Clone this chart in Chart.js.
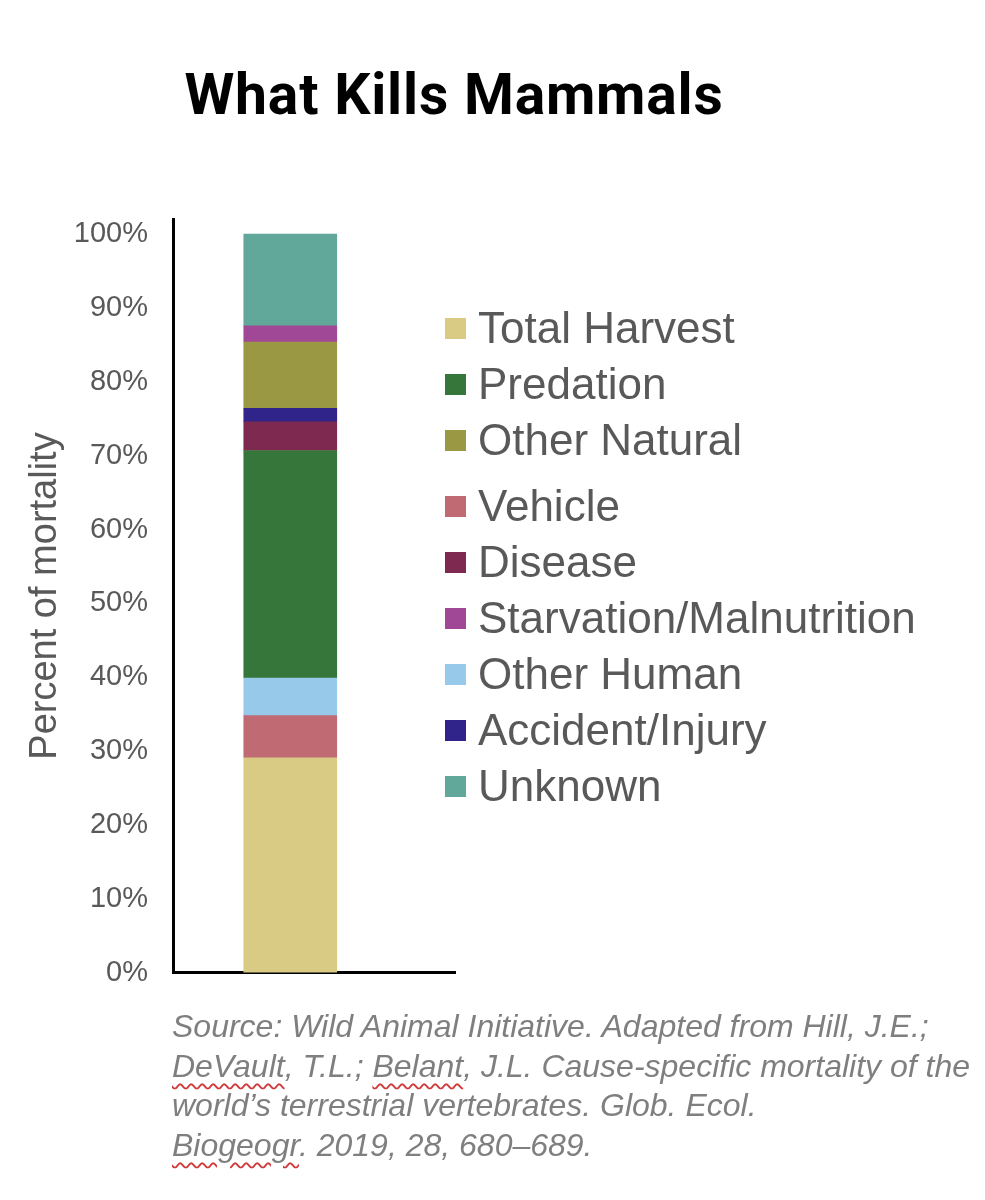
<!DOCTYPE html>
<html>
<head>
<meta charset="utf-8">
<title>What Kills Mammals</title>
<script src="https://cdn.jsdelivr.net/npm/chart.js@4.4.1/dist/chart.umd.min.js"></script>
<style>
  body { margin: 0; width: 985px; height: 1200px; background: #fff; position: relative; overflow: hidden; }
  #title {
    position: absolute; left: 0; top: 67px; width: 908px; text-align: center;
    font: bold 57px Roboto, 'Liberation Sans', sans-serif; line-height: 56px;
    letter-spacing: 0.8px; color: #000;
  }
  #wrap { position: absolute; left: 0; top: 177px; width: 470px; height: 838px; }
  #legend { position: absolute; left: 445px; top: 300px; }
  .item { display: flex; align-items: center; height: 56px; }
  .item:nth-child(4) { margin-top: 10px; }
  .swatch { width: 21px; height: 21px; margin-right: 12px; flex: none; }
  .label { font: 44px 'Liberation Sans', Arial, sans-serif; color: #595959; white-space: nowrap; }
  #source {
    position: absolute; left: 172px; top: 1007px;
    font: italic 32px 'Liberation Sans', Arial, sans-serif; line-height: 39.5px; color: #7f7f7f;
  }
  .sp { text-decoration: underline wavy #d03a3a; text-decoration-thickness: 1.5px; text-underline-offset: 6px; }
</style>
</head>
<body>
<div id="title">What Kills Mammals</div>
<div id="wrap"><canvas id="mortalityChart"></canvas></div>
<div id="legend"></div>
<div id="source">Source: Wild Animal Initiative. Adapted from Hill, J.E.;<br><span class="sp">DeVault</span>, T.L.; <span class="sp">Belant</span>, J.L. Cause-specific mortality of the<br>world’s terrestrial vertebrates. Glob. Ecol.<br><span class="sp">Biogeogr</span>. 2019, 28, 680–689.</div>
<script>
// one stacked column, causes listed bottom to top
const categories = ['Mammals'];
const causes = ['Total Harvest', 'Vehicle', 'Other Human', 'Predation', 'Disease',
  'Accident/Injury', 'Other Natural', 'Starvation/Malnutrition', 'Unknown'];
const shares = [29.1, 5.7, 5.1, 30.8, 3.9, 1.8, 9.0, 2.2, 12.4];
const colors = ['#D9CB84', '#C06A74', '#97CAEA', '#37763B', '#7E2A50',
  '#30248A', '#9A9842', '#A04896', '#62A89A'];
const legendOrder = ['Total Harvest', 'Predation', 'Other Natural', 'Vehicle', 'Disease',
  'Starvation/Malnutrition', 'Other Human', 'Accident/Injury', 'Unknown'];
const yTicks = [0, 10, 20, 30, 40, 50, 60, 70, 80, 90, 100];

// the column sits left of the middle of its slot, as in the original
const columnSlot = 0.399;

const datasets = causes.map((cause, i) => ({
  label: cause,
  data: categories.map(() => ({ x: columnSlot, y: shares[i] })),
  backgroundColor: colors[i],
  borderWidth: 0,
  barThickness: 93,
}));

const ctx = document.getElementById('mortalityChart').getContext('2d');
const mortalityChart = new Chart(ctx, {
  type: 'bar',
  data: { datasets },
  options: {
    responsive: true,
    maintainAspectRatio: false,
    animation: false,
    layout: { padding: { left: 20, top: 17, right: 15, bottom: 27 } },
    plugins: { legend: { display: false }, tooltip: { enabled: false } },
    scales: {
      x: {
        type: 'linear',
        min: 0,
        max: 1,
        stacked: true,
        ticks: { display: false },
        grid: { display: false, drawTicks: false },
        border: { display: true, color: '#000', width: 3 },
        afterFit: (scale) => { scale.height = 0; },
      },
      y: {
        stacked: true,
        min: 0,
        max: 102,
        afterBuildTicks: (scale) => { scale.ticks = yTicks.map((v) => ({ value: v })); },
        ticks: {
          callback: (v) => v + '%',
          color: '#595959',
          padding: 25,
          font: { family: "'Liberation Sans', Arial, sans-serif", size: 29 },
        },
        grid: { display: false, drawTicks: false },
        border: { display: true, color: '#000', width: 3 },
        title: {
          display: true,
          text: 'Percent of mortality',
          color: '#595959',
          padding: { top: 3, bottom: 0 },
          font: { family: "'Liberation Sans', Arial, sans-serif", size: 38 },
        },
        afterFit: (scale) => { scale.width = 153; },
      },
    },
  },
});

// legend in the original's order, built from the same arrays
const legend = document.getElementById('legend');
legendOrder.forEach((name) => {
  const i = causes.indexOf(name);
  legend.innerHTML += `
    <div class="item">
      <span class="swatch" style="background:${colors[i]}"></span>
      <span class="label">${name}</span>
    </div>`;
});
</script>
</body>
</html>
